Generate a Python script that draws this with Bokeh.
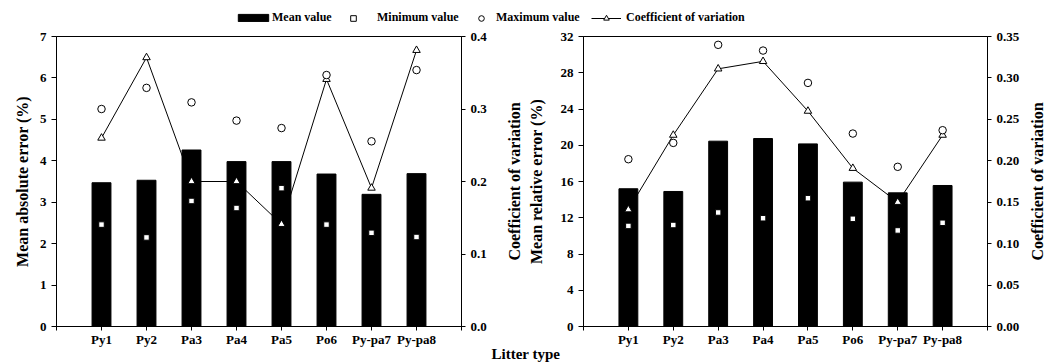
import math
from bokeh.plotting import figure
from bokeh.layouts import column, row
from bokeh.models import (Range1d, LinearAxis, FixedTicker, NumeralTickFormatter,
                          Legend, LegendItem, Title, ColumnDataSource)
from bokeh.embed import file_html
from bokeh.resources import INLINE

# ---------------- data ----------------
categories = ["Py1", "Py2", "Pa3", "Pa4", "Pa5", "Po6", "Py-pa7", "Py-pa8"]

mae_mean = [3.47, 3.53, 4.26, 3.98, 3.98, 3.68, 3.19, 3.69]
mae_min = [2.46, 2.15, 3.03, 2.86, 3.34, 2.46, 2.26, 2.16]
mae_max = [5.25, 5.76, 5.41, 4.97, 4.79, 6.07, 4.47, 6.19]
mae_cv = [0.260, 0.371, 0.200, 0.200, 0.141, 0.341, 0.191, 0.381]

mre_mean = [15.20, 14.90, 20.45, 20.74, 20.15, 15.93, 14.75, 15.56]
mre_min = [11.10, 11.20, 12.58, 11.95, 14.16, 11.88, 10.60, 11.44]
mre_max = [18.46, 20.26, 31.08, 30.45, 26.88, 21.29, 17.62, 21.66]
mre_cv = [0.141, 0.231, 0.311, 0.320, 0.260, 0.191, 0.150, 0.231]

mae_ticks = [0, 1, 2, 3, 4, 5, 6, 7]
mae_cv_ticks = [0.0, 0.1, 0.2, 0.3, 0.4]
mre_ticks = [0, 4, 8, 12, 16, 20, 24, 28, 32]
mre_cv_ticks = [0.0, 0.05, 0.10, 0.15, 0.20, 0.25, 0.30, 0.35]

legend_labels = ["Mean value", "Minimum value", "Maximum value", "Coefficient of variation"]
cv_title = "Coefficient of variation"
x_title = "Litter type"

FONT = "Liberation Serif"
positions = list(range(1, len(categories) + 1))

ROW_H = 332
TOP_B = 6
BOT_B = 36


def style_axis(ax, ticks, fmt=None):
    ax.ticker = FixedTicker(ticks=ticks)
    if fmt:
        ax.formatter = NumeralTickFormatter(format=fmt)
    ax.major_label_text_font = FONT
    ax.major_label_text_font_style = "bold"
    ax.major_label_text_font_size = "13px"
    ax.major_label_text_color = "black"
    ax.major_tick_out = 5
    ax.major_tick_in = 0
    ax.minor_tick_out = 0
    ax.minor_tick_in = 0
    ax.axis_line_color = "black"
    ax.major_tick_line_color = "black"
    ax.major_label_standoff = 5
    ax.axis_label_text_font = FONT
    ax.axis_label_text_font_style = "bold"
    ax.axis_label_text_font_size = "16px"
    ax.axis_label_text_color = "black"


def title(text, size, standoff=0, **kw):
    return Title(text=text, text_font=FONT, text_font_style="bold",
                 text_font_size=size, text_color="black", standoff=standoff, **kw)


def panel(width, left_border, right_border, mean, mn, mx, cv, yticks, cvticks, cvfmt,
          ylabel, left_label_standoff):
    p = figure(width=width, height=ROW_H, x_range=Range1d(0, 9),
               y_range=Range1d(yticks[0], yticks[-1]),
               output_backend="svg", toolbar_location=None,
               min_border_left=left_border, min_border_right=right_border,
               min_border_top=TOP_B, min_border_bottom=BOT_B)
    p.extra_y_ranges = {"cv": Range1d(cvticks[0], cvticks[-1])}
    p.grid.visible = False
    p.outline_line_color = "black"
    p.background_fill_color = "white"
    p.border_fill_color = "white"

    src = ColumnDataSource(dict(x=positions, mean=mean, mn=mn, mx=mx, cv=cv))

    # order: CV line (behind bars), bars, markers on top
    p.line("x", "cv", source=src, y_range_name="cv", line_color="black", line_width=1)
    p.vbar(x="x", top="mean", width=0.42, source=src, fill_color="black", line_color="black")
    p.scatter("x", "cv", source=src, y_range_name="cv", marker="triangle", size=7.5,
              fill_color="white", line_color="black", line_width=1)
    p.scatter("x", "mn", source=src, marker="square", size=5.5,
              fill_color="white", line_color="black", line_width=1)
    p.scatter("x", "mx", source=src, marker="circle", size=7.5,
              fill_color="white", line_color="black", line_width=1)

    # x axis
    xa = p.xaxis[0]
    style_axis(xa, [0] + positions + [9])
    overrides = {0: "", 9: ""}
    for pos, c in zip(positions, categories):
        overrides[pos] = c
    xa.major_label_overrides = overrides
    xa.major_tick_out = 4
    xa.major_label_standoff = 1

    # left axis
    ya = p.yaxis[0]
    style_axis(ya, yticks)
    ya.axis_label = ylabel
    ya.axis_label_standoff = left_label_standoff

    # right axis (its title is drawn next to it, reading bottom-to-top)
    ra = LinearAxis(y_range_name="cv")
    style_axis(ra, cvticks, cvfmt)
    ra.major_tick_out = 4
    p.add_layout(ra, "right")
    return p


p1 = panel(491, 56, 30, mae_mean, mae_min, mae_max, mae_cv, mae_ticks, mae_cv_ticks, "0.0",
           "Mean absolute error (%)", 6)
p2 = panel(535, 92, 39, mre_mean, mre_min, mre_max, mre_cv, mre_ticks, mre_cv_ticks, "0.00",
           "Mean relative error (%)", 13)

# title of the left panel's right axis (sits in the gap between the panels)
p2.add_layout(title(cv_title, "16px", standoff=2, align="center", vertical_align="middle"), "left")
# common x title
p2.add_layout(title(x_title, "15px", standoff=-8, align="left", vertical_align="top",
                    offset=-92), "below")

# narrow strip holding the title of the right panel's right axis
p3 = figure(width=31, height=ROW_H, x_range=Range1d(0, 1), y_range=Range1d(0, 1),
            output_backend="svg", toolbar_location=None,
            x_axis_location=None, y_axis_location=None,
            min_border_left=20, min_border_right=0, min_border_top=TOP_B, min_border_bottom=BOT_B)
p3.grid.visible = False
p3.outline_line_color = None
p3.add_layout(title(cv_title, "16px", align="center", vertical_align="middle"), "left")

# ---------------- legend strip ----------------
top = figure(width=1057, height=30, x_range=Range1d(0, 1), y_range=Range1d(0, 1),
             output_backend="svg", toolbar_location=None,
             min_border_left=0, min_border_right=0, min_border_top=0, min_border_bottom=0)
top.axis.visible = False
top.grid.visible = False
top.outline_line_color = None
# proxy renderers for the legend, kept outside the visible range
proxy = ColumnDataSource(dict(x=[5, 6], y=[5, 6]))
r_bar = top.vbar(x="x", top="y", width=0.1, source=proxy, fill_color="black", line_color="black")
r_min = top.scatter("x", "y", source=proxy, marker="square", fill_color="white",
                    line_color="black", line_width=1)
r_max = top.scatter("x", "y", source=proxy, marker="circle", fill_color="white",
                    line_color="black", line_width=1)
r_cvl = top.line("x", "y", source=proxy, line_color="black", line_width=1)
r_cvm = top.scatter("x", "y", source=proxy, marker="triangle", fill_color="white",
                    line_color="black", line_width=1)

leg_specs = [
    (legend_labels[0], [r_bar], 234, 38, 9, 0),
    (legend_labels[1], [r_min], 346, 14, 14, 17),
    (legend_labels[2], [r_max], 474, 14, 14, 8),
    (legend_labels[3], [r_cvl, r_cvm], 591, 30, 14, 5),
]
for lab, rends, lx, gw, gh, so in leg_specs:
    lg = Legend(items=[LegendItem(label=lab, renderers=rends, index=0)],
                location=(lx, 5), orientation="horizontal",
                padding=0, margin=0, spacing=0,
                glyph_width=gw, glyph_height=gh, label_height=14, label_standoff=so,
                border_line_color=None, background_fill_alpha=0,
                label_text_font=FONT, label_text_font_style="bold",
                label_text_font_size="12px", label_text_color="black")
    top.add_layout(lg, "center")

layout = column(top, row(p1, p2, p3))
open("out.html", "w").write(file_html(layout, INLINE))
